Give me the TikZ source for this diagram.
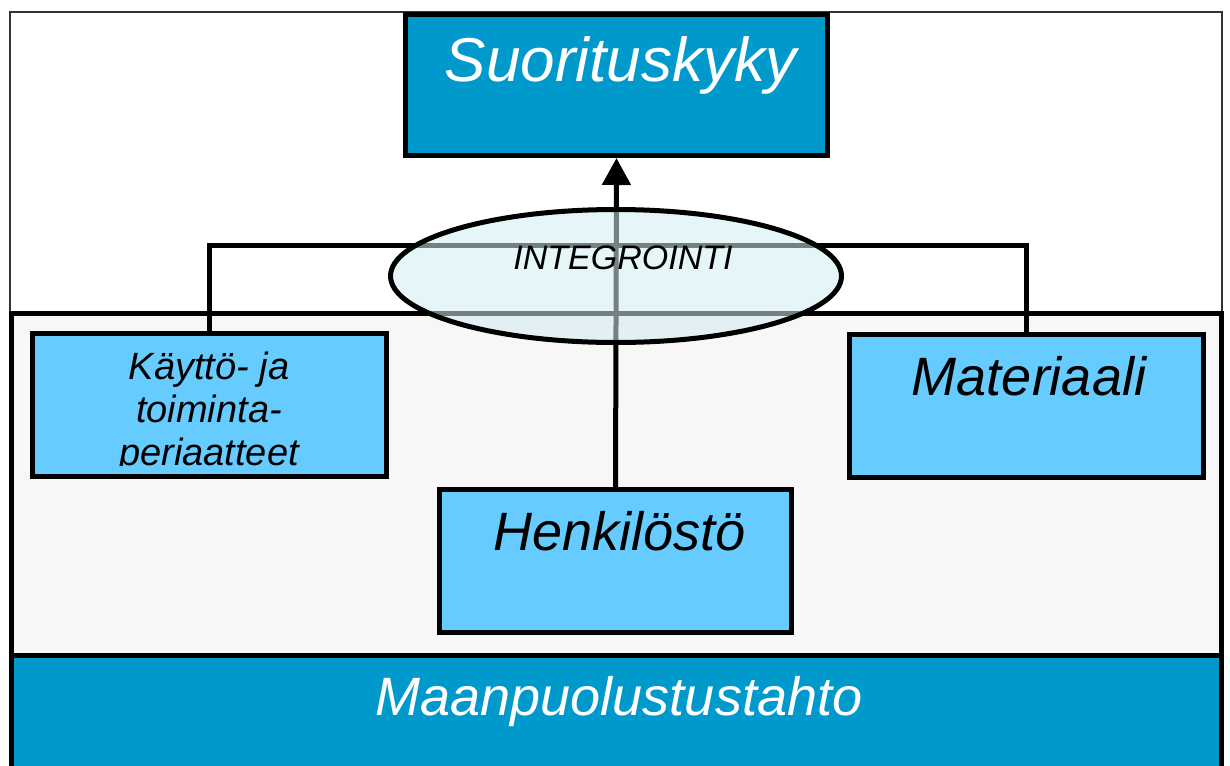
\documentclass[tikz,border=0pt]{standalone}
\usepackage{fontspec}
\setmainfont{Liberation Sans}
\usetikzlibrary{shapes.geometric,arrows.meta}
\definecolor{deepblue}{HTML}{0099CC}
\definecolor{lightblue}{HTML}{66CCFF}
\definecolor{panelgray}{HTML}{F7F7F7}
\definecolor{mistcyan}{HTML}{D2ECF0}
\tikzset{
  box/.style={draw, line width=5pt, fill=lightblue, minimum width=354pt, minimum height=143pt, inner sep=0pt},
  txt/.style={inner sep=0pt, anchor=base}
}
\begin{document}
\begin{tikzpicture}[x=1pt, y=-1pt, >={Triangle[width=28pt,length=27pt]}]
\useasboundingbox (0,0) rectangle (1230,765);
% frame, panel and ground
\draw[line width=1.5pt, black!80] (10,12) rectangle (1222,770);
\draw[line width=5pt, fill=panelgray] (11,313) rectangle (1221,655);
\draw[line width=5pt, fill=deepblue] (11,655) rectangle (1221,790);
% boxes
\node[box, fill=deepblue, minimum width=422pt, minimum height=141pt] (suor) at (616.5,85) {};
\node[box] (kaytto) at (209,404.5) {};
\node[box] (mat) at (1026.5,405.5) {};
\node[box, minimum width=352pt] (henk) at (615.5,561) {};
\coordinate (bus) at (616,245);
% connectors
\draw[line width=5pt] (kaytto.north) |- (bus) -| (mat.north);
\draw[line width=5pt, ->] (henk.north) -- (suor.south);
\node[ellipse, draw, line width=5pt, fill=mistcyan, fill opacity=.55, minimum width=451pt, minimum height=133pt] (integ) at (616,276) {};
% texts
\node[txt, text=white, font=\fontsize{62}{70}\selectfont\itshape] (suortxt) at (620.5,82) {Suorituskyky};
\node[txt, font=\fontsize{34}{40}\selectfont\itshape] (integtxt) at (623,269) {INTEGROINTI};
\node[txt, font=\fontsize{54}{60}\selectfont\itshape] (mattxt) at (1029,395) {Materiaali};
\node[txt, font=\fontsize{54}{60}\selectfont\itshape] (henktxt) at (619.5,550) {Henkilöstö};
\node[txt, text=white, font=\fontsize{54}{60}\selectfont\itshape] (tahto) at (619,715) {Maanpuolustustahto};
\begin{scope}
\clip (35,336) rectangle (383,465);
\node[inner sep=0pt, anchor=north, align=center, font=\fontsize{38}{43}\selectfont\itshape] (kayttotxt) at (209,352) {Käyttö- ja\\toiminta-\\periaatteet};
\end{scope}
\end{tikzpicture}
\end{document}
